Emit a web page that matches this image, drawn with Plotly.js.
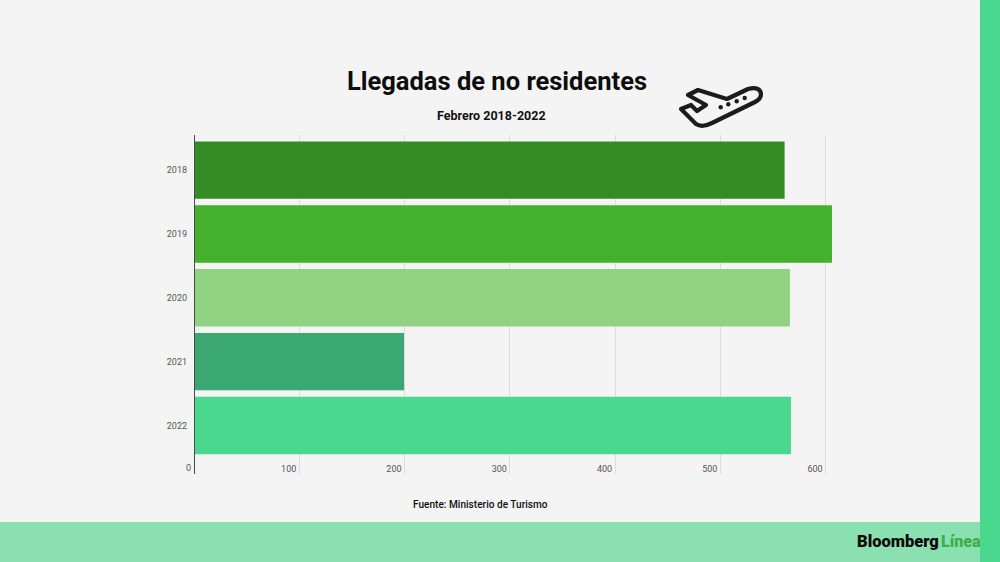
<!DOCTYPE html>
<html>
<head>
<meta charset="utf-8">
<script src="https://cdn.plot.ly/plotly-3.0.1.min.js"></script>
<style>
  html, body { margin: 0; padding: 0; background: #f4f4f4; overflow: hidden; }
  #plot { width: 1000px; height: 562px; }
</style>
</head>
<body>
<div id="plot"></div>
<script>
var years = ['2018', '2019', '2020', '2021', '2022'];
var arrivals = [561, 606, 566, 199.5, 567];
var barColors = ['#368c24', '#44b02c', '#90d282', '#3aa870', '#4ad78e'];
var xTicks = [0, 100, 200, 300, 400, 500, 600];

var plane = "<svg xmlns='http://www.w3.org/2000/svg' viewBox='0 0 120 70' width='480' height='280'>" +
   "<path d='M21 39 L31 35 L37 41 L46 35 L28 25 L38 20 L67 29 L88 19 Q100 16 101 24 Q101 29 95 32 L52 53 Q42 58 36 54 Z' " +
   "fill='none' stroke='#1c1c1c' stroke-width='4.2' stroke-linejoin='round'/>" +
   "<g fill='#1c1c1c'><circle cx='60.7' cy='37.3' r='2.2'/><circle cx='68.3' cy='34.3' r='2.2'/>" +
   "<circle cx='76.7' cy='31.3' r='2.2'/><circle cx='84.7' cy='28' r='2.2'/></g></svg>";

var bars = {
   type: 'bar',
   orientation: 'h',
   x: arrivals,
   y: years,
   marker: {color: barColors},
   hoverinfo: 'x+y'
};

// page pixels to fractions of the whole picture
function fx(px) { return px / 1000; }
function fy(py) { return 1 - py / 562; }

function label(text, px, py, size, color, weight, anchor) {
   return {
      text: text,
      xref: 'paper', yref: 'paper',
      x: (px - 194) / 638,
      y: (474 - py) / 339,
      xanchor: anchor || 'center',
      yanchor: 'middle',
      showarrow: false,
      font: {family: 'Roboto', size: size, color: color, weight: weight}
   };
}

var layout = {
   width: 1000,
   height: 562,
   margin: {l: 194, r: 168, t: 135, b: 88},
   paper_bgcolor: '#f4f4f4',
   plot_bgcolor: '#f4f4f4',
   showlegend: false,
   bargap: 0.1,
   font: {family: 'Roboto', color: '#555555'},
   title: {
      text: 'Llegadas de no residentes',
      x: fx(497), y: fy(81),
      xanchor: 'center', yanchor: 'middle',
      font: {family: 'Roboto', size: 25.5, color: '#0d0d0d', weight: 700}
   },
   xaxis: {
      range: [0, 606],
      tickvals: xTicks,
      ticktext: xTicks.map(String),
      ticks: '',
      ticklabelposition: 'inside left',
      ticklabelshift: -3,
      ticklabelstandoff: -6,
      tickfont: {family: 'Roboto', size: 9, color: '#555555'},
      showgrid: true,
      gridcolor: '#dcdcdc',
      gridwidth: 1,
      zeroline: false,
      showline: false
   },
   yaxis: {
      type: 'category',
      categoryorder: 'array',
      categoryarray: years,
      range: [4.76, -0.55],
      ticks: '',
      ticklabelstandoff: 6,
      tickfont: {family: 'Roboto', size: 9, color: '#555555'},
      showgrid: false,
      zeroline: false,
      showline: false
   },
   shapes: [
      {type: 'rect', xref: 'paper', yref: 'paper', layer: 'below', line: {width: 0}, fillcolor: '#8ae0b1',
       x0: -194 / 638, x1: (980 - 194) / 638, y0: (474 - 562) / 339, y1: (474 - 522) / 339},
      {type: 'rect', xref: 'paper', yref: 'paper', layer: 'below', line: {width: 0}, fillcolor: '#4ad78e',
       x0: (980 - 194) / 638, x1: (1000 - 194) / 638, y0: (474 - 562) / 339, y1: (474 - 0) / 339},
      {type: 'line', xref: 'x', yref: 'paper', layer: 'above', line: {width: 2, color: '#4a4a4a'},
       x0: 0, x1: 0, y0: 0, y1: 1}
   ],
   images: [{
      source: 'data:image/svg+xml;utf8,' + encodeURIComponent(plane),
      xref: 'paper', yref: 'paper',
      x: (660 - 194) / 638, y: (474 - 70) / 339,
      sizex: 120 / 638, sizey: 70 / 339,
      xanchor: 'left', yanchor: 'top',
      sizing: 'stretch',
      layer: 'above'
   }],
   annotations: [
      label('Febrero 2018-2022', 491, 115.5, 12.5, '#111111', 700),
      label('Fuente: Ministerio de Turismo', 480.5, 504.5, 10.1, '#111111', 500),
      label('Bloomberg', 855, 541.5, 16.5, '#0a0a0a', 900, 'left'),
      label('Línea', 939, 541.5, 16, '#3fae49', 900, 'left'),
      label(String(xTicks[0]), 193, 468, 9, '#555555', 400, 'right')
   ]
};

Plotly.newPlot('plot', [bars], layout, {displayModeBar: false});
</script>
</body>
</html>
